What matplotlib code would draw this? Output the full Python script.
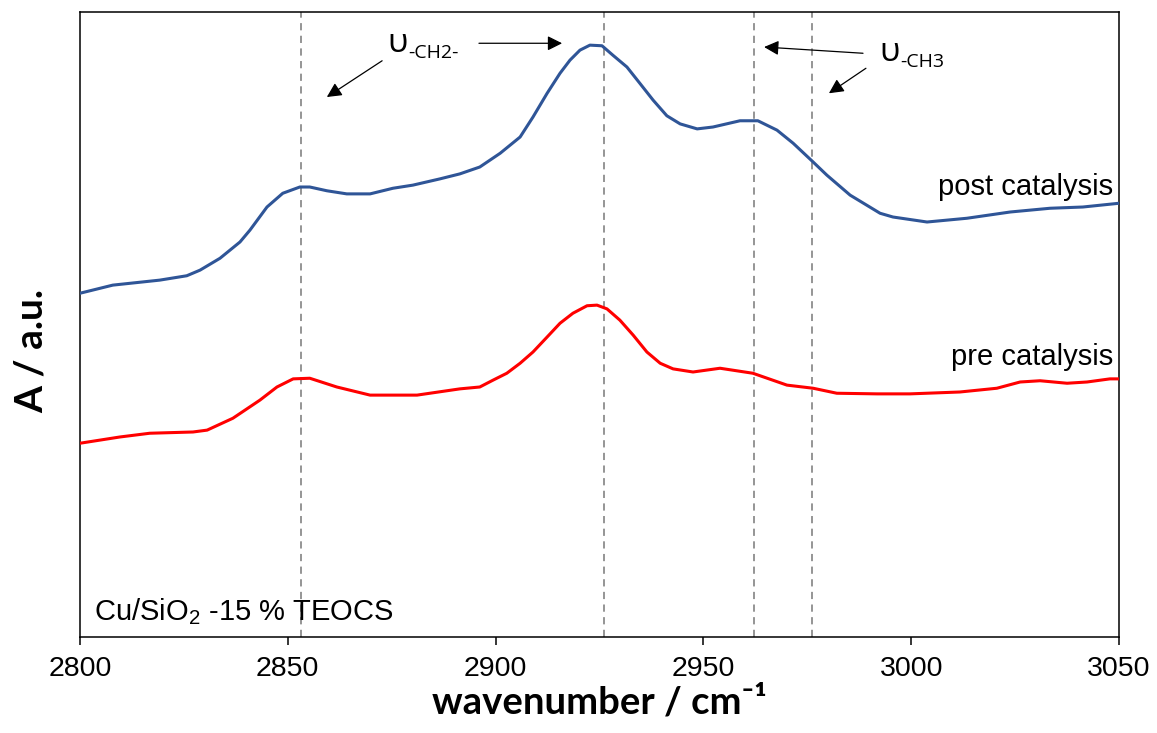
import matplotlib
matplotlib.use('Agg')
import matplotlib.pyplot as plt

# wavenumber (cm-1) and absorbance (a.u.)
post_wn = [2800.0, 2807.9, 2819.2, 2825.7, 2828.9, 2833.7, 2838.5, 2840.9, 2845.0, 2848.8,
           2852.9, 2855.3, 2859.4, 2864.2, 2869.8, 2875.3, 2880.1, 2886.6, 2891.4, 2896.2,
           2901.1, 2905.9, 2909.0, 2912.4, 2915.5, 2917.9, 2920.3, 2922.7, 2925.6, 2928.2,
           2931.6, 2934.7, 2937.9, 2941.2, 2944.4, 2948.5, 2952.3, 2958.8, 2963.1, 2967.7,
           2971.6, 2976.4, 2979.7, 2985.3, 2992.5, 2995.6, 3003.8, 3013.4, 3023.8, 3033.4,
           3041.3, 3050.0]
post_abs = [0.550, 0.563, 0.571, 0.578, 0.587, 0.606, 0.632, 0.651, 0.688, 0.710,
            0.720, 0.720, 0.714, 0.709, 0.709, 0.718, 0.723, 0.733, 0.741, 0.752,
            0.774, 0.800, 0.832, 0.870, 0.902, 0.923, 0.939, 0.947, 0.946, 0.931,
            0.912, 0.886, 0.859, 0.834, 0.821, 0.813, 0.816, 0.826, 0.826, 0.811,
            0.790, 0.760, 0.739, 0.707, 0.678, 0.672, 0.664, 0.670, 0.680, 0.686,
            0.688, 0.694]

pre_wn = [2800.0, 2809.6, 2816.8, 2827.2, 2830.6, 2836.8, 2843.3, 2847.4, 2851.3, 2855.3,
          2861.8, 2869.8, 2881.1, 2891.4, 2896.2, 2899.4, 2902.7, 2905.9, 2909.0, 2912.4,
          2915.5, 2918.6, 2922.0, 2924.4, 2926.8, 2929.9, 2933.1, 2936.4, 2939.6, 2942.7,
          2947.5, 2954.0, 2961.9, 2970.1, 2976.4, 2982.1, 2991.8, 2999.7, 3011.7, 3020.6,
          3026.2, 3031.0, 3037.5, 3042.3, 3047.8, 3050.0]
pre_abs = [0.310, 0.320, 0.326, 0.328, 0.331, 0.350, 0.379, 0.400, 0.413, 0.414,
           0.400, 0.387, 0.387, 0.397, 0.400, 0.411, 0.422, 0.438, 0.456, 0.480,
           0.502, 0.518, 0.530, 0.531, 0.525, 0.507, 0.483, 0.456, 0.438, 0.429,
           0.424, 0.430, 0.422, 0.403, 0.398, 0.390, 0.389, 0.389, 0.392, 0.398,
           0.408, 0.410, 0.406, 0.408, 0.413, 0.413]

band_pos = [2853.2, 2926.1, 2962.2, 2976.1]
xticks = [2800, 2850, 2900, 2950, 3000, 3050]

fig = plt.figure(figsize=(11.57, 7.33), dpi=100)
ax = fig.add_axes([0.0691, 0.131, 0.8981, 0.8526])

for b in band_pos:
    ax.axvline(b, color='#8c8c8c', linestyle=(0, (4, 3)), linewidth=1.3, zorder=1)

ax.plot(post_wn, post_abs, color='#2f5597', linewidth=2.2, zorder=3, solid_joinstyle='round')
ax.plot(pre_wn, pre_abs, color='#ff0000', linewidth=2.2, zorder=3, solid_joinstyle='round')

ax.set_xlim(2800, 3050)
ax.set_ylim(0, 1)
ax.set_xticks(xticks)
ax.set_yticks([])
for sp in ax.spines.values():
    sp.set_linewidth(1.1)
ax.tick_params(axis='x', direction='out', length=6, width=1.1, pad=8,
               labelsize=20.5, labelfontfamily='Liberation Sans')

ax.set_xlabel('wavenumber / cm⁻¹', fontsize=27.5, fontweight='bold',
              family=['Lato', 'DejaVu Sans'], labelpad=2)
fig.text(0.027, 0.521, 'A / a.u.', rotation=90, ha='center', va='center',
         fontsize=28, fontweight='bold', family='Lato')

ax.text(3048.5, 0.708, 'post catalysis', ha='right', va='baseline',
        fontsize=21, family='Liberation Sans')
ax.text(3048.5, 0.435, 'pre catalysis', ha='right', va='baseline',
        fontsize=21, family='Liberation Sans')
ax.text(2803.5, 0.027, r'Cu/SiO$_{\mathregular{2}}$ -15 % TEOCS', ha='left', va='baseline',
        fontsize=21, family='Liberation Sans')

# band labels: symbol plus a subscript placed right after it
for xpos, ypos, sub in [(2874.0, 0.936, '-CH2-'), (2992.3, 0.922, '-CH3')]:
    t = ax.text(xpos, ypos, 'υ', fontsize=24, family=['Open Sans', 'DejaVu Sans'],
                ha='left', va='baseline')
    ax.annotate(sub, xy=(1, 0), xycoords=t, xytext=(0.5, -1.5), textcoords='offset points',
                fontsize=14, family='Open Sans', ha='left', va='bottom')

arr = dict(arrowstyle='-|>', color='black', lw=0.9, mutation_scale=22, shrinkA=0, shrinkB=0)
ax.annotate('', xy=(2859.4, 0.864), xytext=(2872.7, 0.922), arrowprops=arr)
ax.annotate('', xy=(2916.0, 0.950), xytext=(2896.0, 0.950), arrowprops=arr)
ax.annotate('', xy=(2964.6, 0.944), xytext=(2988.4, 0.934), arrowprops=arr)
ax.annotate('', xy=(2980.2, 0.870), xytext=(2989.1, 0.910), arrowprops=arr)

fig.savefig('out.png', dpi=100)
